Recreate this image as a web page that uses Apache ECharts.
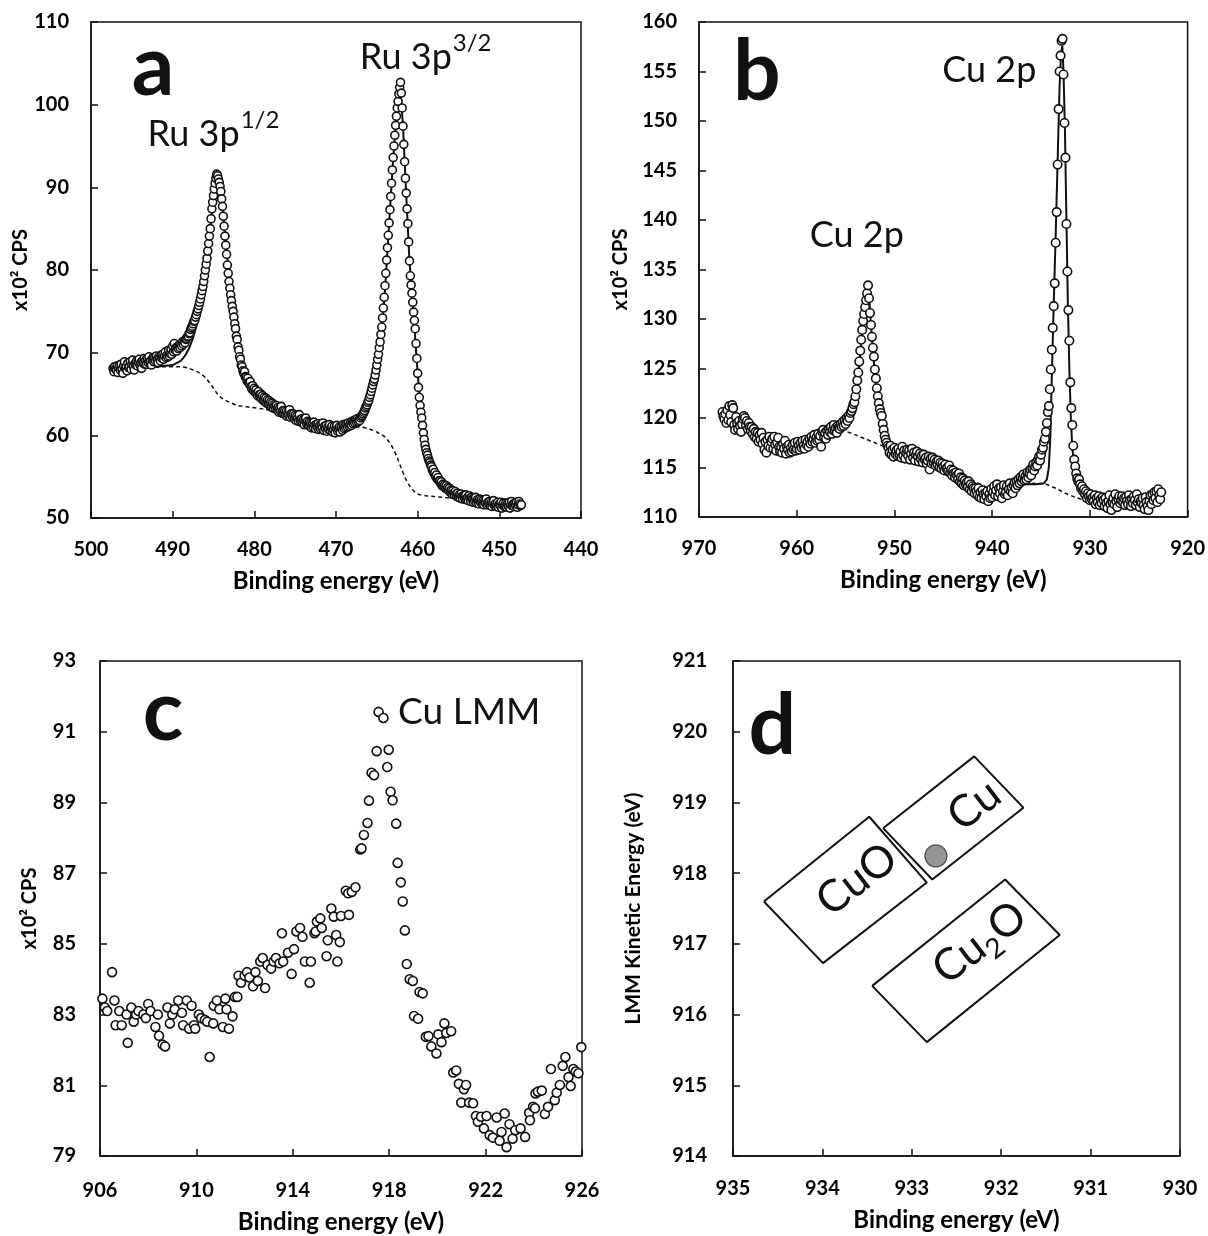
<!DOCTYPE html>
<html><head><meta charset="utf-8">
<script src="https://cdn.jsdelivr.net/npm/echarts@6/dist/echarts.min.js"></script>
<style>html,body{margin:0;padding:0;background:#fff}#c{width:1208px;height:1236px}</style>
</head><body><div id="c"></div>
<script>
// ---------------- Panel a : Ru 3p region ----------------
const aStartEV = 497.3, aStepEV = 0.1;   // energy grid (decreasing)
const aCounts = [
68.1,67.7,68.3,68.0,67.9,68.4,67.6,68.2,68.5,67.9,
68.6,68.0,67.5,68.4,68.9,68.1,68.3,67.8,68.7,68.2,
68.3,68.9,68.0,68.6,69.1,68.4,67.9,68.7,68.5,69.0,
68.4,68.9,69.2,68.5,68.8,68.1,69.0,68.7,69.3,68.6,
69.1,68.6,69.3,68.8,69.5,68.9,69.0,68.5,69.2,69.4,
68.9,69.4,69.0,69.6,69.2,68.8,69.5,69.3,69.0,69.7,
69.3,69.8,69.2,69.6,70.1,69.4,69.7,69.5,70.3,69.6,
69.9,70.4,69.8,70.8,70.1,71.1,70.3,70.6,70.2,70.7,
70.5,70.9,70.6,71.0,70.8,71.3,71.0,71.4,71.2,71.6,
71.7,71.9,72.0,72.3,72.4,72.8,73.0,73.2,73.5,73.8,
73.9,74.3,74.6,75.0,75.3,75.7,76.1,76.5,77.0,77.5,
78.0,78.6,79.3,80.0,80.7,81.4,82.3,83.2,84.1,85.0,
86.2,87.4,88.2,89.0,89.8,90.5,91.1,91.6,91.4,91.0,
90.6,90.1,89.5,88.6,87.7,86.5,85.3,84.1,83.0,81.9,
80.6,79.6,78.6,77.8,77.0,76.3,75.6,75.0,74.3,73.5,
72.9,72.0,71.6,70.7,70.3,69.5,69.2,68.5,68.3,67.8,
67.5,67.7,67.1,67.0,66.6,66.9,66.4,66.2,66.5,65.9,
65.6,66.0,65.4,65.7,65.2,65.5,65.1,64.8,65.3,64.9,
64.6,65.0,64.4,64.8,64.2,64.6,64.1,64.5,63.9,64.3,
63.8,64.2,63.6,64.0,63.4,63.9,63.3,63.7,63.5,63.2,
63.6,63.1,63.4,62.8,63.3,62.9,63.5,62.7,63.0,62.6,
63.0,62.5,62.9,62.3,62.7,62.4,63.1,62.2,62.6,62.4,
62.2,62.6,62.0,62.4,61.8,62.3,62.0,61.7,62.5,61.9,
61.6,62.0,61.5,61.9,61.3,61.8,62.1,61.4,61.7,61.2,
61.6,61.1,61.5,60.9,61.4,61.0,61.6,61.2,60.8,61.3,
61.0,61.4,60.7,61.2,60.8,61.3,60.9,61.5,60.6,61.1,
60.8,61.2,60.5,61.0,60.7,61.3,60.6,60.9,61.1,60.4,
60.7,61.1,60.3,60.9,61.2,60.5,60.8,61.0,60.4,60.9,
61.1,60.6,61.3,60.8,61.2,60.9,61.4,61.0,61.5,61.1,
61.3,61.6,61.2,61.7,61.4,61.8,61.5,61.9,61.6,62.0,
61.7,61.9,61.8,62.1,62.3,62.4,62.6,62.8,63.0,63.3,
63.5,63.7,64.0,64.2,64.6,64.9,65.3,65.7,66.1,66.5,
66.8,67.3,67.9,68.5,69.2,69.8,70.6,71.3,72.2,73.1,
74.2,75.4,76.7,78.1,79.6,81.2,82.7,84.2,85.7,87.3,
88.9,90.5,92.1,93.6,95.0,96.3,97.5,98.6,99.6,100.4,
101.3,102.1,102.7,101.4,99.6,97.4,95.2,93.1,91.1,89.3,
87.4,85.6,83.4,81.1,79.3,78.2,77.2,76.1,74.9,73.9,
72.9,71.1,69.3,67.5,65.8,64.6,63.6,62.8,62.1,61.2,
60.3,59.5,58.8,58.3,57.9,57.6,57.2,56.9,56.7,56.4,
56.2,55.8,55.9,55.4,55.5,55.0,55.2,54.7,54.9,54.5,
54.5,54.2,54.4,53.9,54.1,53.8,54.0,53.6,53.9,53.5,
53.7,53.3,53.6,53.1,53.4,52.9,53.3,53.0,52.8,53.2,
52.9,52.6,53.0,52.5,52.8,52.4,52.9,52.6,52.3,52.7,
52.6,52.3,52.8,52.2,52.5,52.1,52.7,52.4,52.0,52.5,
52.3,51.9,52.4,52.0,52.5,51.8,52.2,52.0,51.7,52.3,
51.9,52.2,51.7,52.1,51.6,52.0,51.8,52.3,51.6,51.9,
51.7,52.0,51.5,51.9,51.4,51.8,52.1,51.5,51.7,51.4,
51.6,51.9,51.3,51.7,51.5,51.9,51.2,51.6,51.8,51.4,
51.5,51.8,51.3,51.7,51.4,51.9,51.2,51.6,52.0,51.5,
51.7,51.4,51.8,51.5,51.9,51.3,51.6,52.0,51.7,51.5,
51.6
];
const aFit = [[497.3,68.1],[495,68.2],[492,68.3],[490,68.5],[489,69.0],[488.5,69.6],[488,70.5],[487.5,71.8],[487,73.6],[486.5,76.0],[486,79.5],[485.5,84.0],[485,88.5],[484.7,91.0],[484.55,91.6],[484.3,90.8],[484,88.5],[483.5,83.5],[483,78.5],[482.5,74.2],[482,70.8],[481.5,68.3],[481,66.8],[480,65.3],[478,63.9],[476,63.0],[474,62.2],[472,61.5],[470,61.0],[468.5,60.9],[467.5,61.0],[467,61.3],[466.5,61.9],[466,63.0],[465.5,64.8],[465,67.5],[464.5,71.5],[464,77.5],[463.5,85.5],[463,93.5],[462.5,99.5],[462.15,102.3],[461.8,97.5],[461.5,91.2],[461,81.0],[460.5,74.5],[460,67.5],[459.5,62.0],[459,58.2],[458.5,56.4],[458,55.3],[457,54.0],[456,53.2],[455,52.7],[453,52.3],[451,52.0],[449,51.8],[447.3,51.7]];
const aBackground = [[497.3,68.0],[494,68.1],[491,68.3],[489,68.3],[488,68.1],[487,67.7],[486.5,67.4],[486,67.0],[485.5,66.4],[485,65.7],[484.5,65.0],[484,64.5],[483,64.0],[482,63.6],[480.5,63.4],[479,63.2],[477,62.8],[475,62.3],[473,61.9],[471,61.5],[469,61.2],[467,61.0],[466,60.8],[465,60.4],[464,59.8],[463.5,59.2],[463,58.4],[462.5,57.3],[462,56.0],[461.5,54.8],[461,53.9],[460.5,53.3],[460,52.9],[459,52.7],[458,52.6],[457,52.5],[455,52.3],[452,52.0],[449,51.8],[447.3,51.7]];
const aXTicks = [500,490,480,470,460,450,440];
const aYTicks = [50,60,70,80,90,100,110];

// ---------------- Panel b : Cu 2p region ----------------
const bStartEV = 967.6, bStepEV = 0.1;
const bCounts = [
120.6,120.2,119.9,120.4,119.5,120.8,119.8,121.2,120.3,119.6,
121.3,121.0,119.3,118.8,120.1,119.5,118.9,119.7,119.2,118.6,
119.4,119.9,120.2,120.0,119.3,119.7,118.9,119.5,119.1,118.7,
119.1,118.4,118.9,118.1,118.6,117.9,118.5,117.6,118.3,117.8,
118.5,117.4,118.0,116.8,117.6,116.5,117.8,117.2,118.1,117.0,
117.6,117.9,116.9,118.1,117.3,116.7,117.5,118.0,117.1,116.6,
117.1,116.5,117.4,116.9,117.7,116.4,117.1,116.8,117.3,116.5,
117.0,116.6,117.3,116.8,117.5,116.7,116.9,117.6,117.2,116.8,
117.5,117.0,117.7,117.2,116.9,117.8,117.3,117.6,117.1,117.9,
117.4,118.1,117.6,117.9,118.3,117.5,118.0,117.7,118.4,117.8,
118.2,117.1,118.6,118.8,118.0,118.5,117.9,118.7,118.3,118.9,
118.6,119.1,118.4,118.8,119.3,118.7,119.0,118.5,119.2,119.0,
118.9,119.4,119.1,119.6,119.2,119.8,119.4,120.0,119.7,120.2,
120.0,120.5,120.7,121.0,121.4,121.6,122.2,122.9,123.8,124.6,
125.7,126.8,127.9,128.9,129.8,130.5,131.2,131.9,132.6,133.4,
132.1,130.6,129.4,128.2,127.1,126.2,124.9,124.0,123.0,122.2,
121.5,120.9,120.5,120.2,119.4,118.8,118.2,117.8,117.5,117.2,
117.0,116.5,117.2,116.3,116.8,116.1,117.0,116.4,116.7,116.2,
116.9,116.3,116.6,116.0,117.1,116.2,116.7,115.9,116.5,116.8,
116.2,116.7,115.8,116.4,116.9,116.0,116.5,115.7,116.3,116.6,
116.1,115.6,116.4,115.9,116.2,115.5,116.3,115.8,116.0,115.4,
115.7,116.1,114.8,115.9,115.4,116.0,115.5,115.8,115.2,115.6,
115.3,115.7,115.0,115.5,114.9,115.4,115.1,114.7,115.3,114.9,
115.0,114.6,115.2,114.5,114.8,114.2,114.7,114.4,114.0,114.5,
114.2,113.8,114.4,113.6,114.0,113.4,113.9,113.2,113.7,113.3,
113.5,113.0,113.6,112.8,113.3,112.6,113.1,112.9,112.4,112.9,
112.6,112.2,112.9,112.0,112.5,111.9,112.7,112.3,111.8,112.4,
112.1,112.6,111.6,112.3,111.9,112.8,112.0,112.5,113.1,112.2,
112.7,113.3,112.1,112.9,112.4,113.0,111.9,112.6,113.2,112.3,
112.5,113.1,112.2,112.8,113.4,112.6,113.0,112.4,113.2,113.5,
112.9,113.6,113.2,113.8,113.4,114.0,113.6,113.9,114.3,113.7,
114.1,113.8,114.5,114.0,114.4,114.8,114.2,114.9,115.3,114.7,
115.1,115.5,115.2,115.8,116.1,115.7,116.3,116.8,117.0,117.6,
117.9,118.6,119.5,120.6,121.2,122.9,124.9,126.9,129.1,131.3,
133.6,137.7,140.8,145.6,151.2,155.0,156.6,158.1,158.3,154.7,
149.8,146.3,139.6,134.8,130.9,127.8,123.6,121.0,119.3,117.2,
115.8,115.1,114.4,113.9,113.6,113.8,113.3,112.9,113.1,112.6,
112.8,112.3,112.6,111.9,112.4,112.1,111.7,112.3,111.8,112.0,
111.6,112.2,111.3,111.9,111.5,112.1,111.2,111.8,111.4,112.0,
111.7,111.1,111.9,111.4,110.9,111.6,112.2,111.3,110.7,111.5,
111.9,111.3,112.3,111.6,111.0,111.8,112.1,111.4,111.7,112.1,
111.5,111.9,111.2,112.0,111.6,111.3,112.2,111.7,111.1,111.8,
111.4,112.1,111.7,111.2,112.3,111.5,111.8,111.0,111.6,111.4,
111.9,111.2,110.8,112.0,111.5,111.1,110.7,111.6,112.2,111.3,
112.3,111.7,112.5,111.9,112.6,111.5,112.8,112.2,111.8,112.5
];
const bFit12 = [[955.2,119.2],[954.6,119.6],[954.2,120.6],[953.9,122.5],[953.6,125.3],[953.3,128.6],[953.0,131.3],[952.8,132.6],[952.65,133.0],[952.5,131.0],[952.3,128.0],[952.1,125.6],[951.9,123.3],[951.7,121.5],[951.4,119.5],[951.1,118.0],[950.8,117.3],[950.4,116.9],[950.0,116.6]];
const bFit32 = [[936.5,113.3],[935.5,113.3],[934.7,113.4],[934.4,113.8],[934.2,115.0],[934.05,118.0],[933.9,124.0],[933.7,131.5],[933.5,138.5],[933.3,146.0],[933.1,153.5],[932.95,156.8],[932.82,157.6],[932.7,155.0],[932.55,149.0],[932.4,140.0],[932.25,131.5],[932.1,125.0],[931.95,120.0],[931.8,117.0],[931.6,115.0],[931.3,113.6],[931.0,112.8],[930.5,112.2],[929.8,111.9]];
const bBackground = [[954.8,118.6],[954,118.3],[953,117.9],[952,117.5],[951,117.1],[950,116.7],[948,116.3],[946,115.6],[944,114.8],[942,113.7],[940,112.9],[938,112.9],[936.5,113.3],[935.5,113.4],[934.5,113.3],[933.5,112.9],[932.5,112.4],[931.5,112.0],[930.5,111.7],[929.5,111.6]];
const bXTicks = [970,960,950,940,930,920];
const bYTicks = [110,115,120,125,130,135,140,145,150,155,160];

// ---------------- Panel c : Cu LMM ----------------
const cPoints = [
[906.10,83.45],[906.20,83.20],[906.30,83.10],[906.50,84.20],[906.60,83.40],[906.65,82.70],[906.80,83.10],[906.90,82.70],[907.10,83.00],[907.15,82.20],
[907.30,83.20],[907.40,82.80],[907.50,83.00],[907.60,83.10],[907.80,83.00],[907.90,82.90],[908.00,83.30],[908.10,83.10],[908.30,82.65],[908.40,83.00],
[908.45,82.40],[908.60,82.15],[908.70,82.10],[908.80,83.20],[908.90,82.75],[909.00,83.00],[909.10,83.15],[909.25,83.40],[909.40,83.05],[909.45,82.70],
[909.60,83.40],[909.70,82.60],[909.80,83.25],[909.90,82.70],[909.95,82.60],[910.10,83.00],[910.20,82.90],[910.35,82.85],[910.45,82.80],[910.55,81.80],
[910.70,82.75],[910.72,83.25],[910.85,83.40],[910.95,83.15],[911.10,82.65],[911.20,83.45],[911.25,83.15],[911.35,82.60],[911.50,82.95],[911.60,83.50],
[911.70,83.50],[911.75,84.10],[911.85,83.90],[912.00,84.10],[912.10,84.20],[912.20,84.05],[912.35,83.80],[912.45,84.20],[912.55,83.95],[912.65,84.50],
[912.75,84.60],[912.85,83.75],[912.95,84.40],[913.10,84.30],[913.20,84.50],[913.30,84.60],[913.45,84.45],[913.55,85.30],[913.60,84.50],[913.80,84.75],
[913.95,84.15],[914.05,84.85],[914.15,85.35],[914.30,85.45],[914.40,85.20],[914.50,84.50],[914.70,83.90],[914.75,84.50],[914.90,85.30],[914.95,85.35],
[915.00,85.63],[915.14,85.72],[915.20,85.45],[915.40,84.65],[915.45,85.10],[915.60,86.00],[915.70,85.77],[915.80,85.25],[915.85,84.50],[915.95,85.05],
[916.00,85.79],[916.20,86.50],[916.30,86.43],[916.33,85.82],[916.45,86.47],[916.60,86.60],[916.80,87.67],[916.85,87.70],[916.95,88.08],[917.10,88.42],
[917.16,89.05],[917.27,89.84],[917.37,89.77],[917.48,90.45],[917.56,91.56],[917.76,91.39],[917.92,90.00],[917.98,90.49],[918.06,89.30],[918.14,89.06],
[918.29,88.40],[918.35,87.29],[918.48,86.74],[918.56,86.20],[918.65,85.38],[918.73,84.43],[918.85,84.00],[918.98,83.95],[919.03,82.96],[919.20,82.88],
[919.26,83.64],[919.39,83.60],[919.52,82.37],[919.63,82.39],[919.75,82.10],[919.96,81.90],[920.04,82.44],[920.17,82.22],[920.29,82.75],[920.37,82.48],
[920.57,82.53],[920.66,81.36],[920.78,81.42],[920.89,81.04],[920.99,80.51],[921.10,80.89],[921.19,81.01],[921.32,80.51],[921.48,80.49],[921.60,80.13],
[921.68,79.97],[921.81,80.11],[921.93,79.78],[922.04,80.13],[922.17,79.59],[922.30,79.52],[922.46,80.09],[922.58,79.43],[922.66,79.68],[922.79,80.20],
[922.87,79.25],[922.99,79.90],[923.12,79.49],[923.23,79.73],[923.45,79.78],[923.64,79.54],[923.81,80.22],[923.84,80.01],[923.97,80.39],[924.05,80.35],
[924.07,80.77],[924.17,80.82],[924.33,80.85],[924.46,80.19],[924.59,80.39],[924.71,81.46],[924.87,80.58],[924.95,80.79],[925.08,81.01],[925.20,81.55],
[925.31,81.80],[925.44,81.23],[925.53,80.98],[925.64,81.46],[925.74,81.39],[925.85,81.34],[925.97,82.08]
];
const cXTicks = [906,910,914,918,922,926];
const cYTicks = [79,81,83,85,87,89,91,93];

// ---------------- Panel d : Wagner plot ----------------
const dCuOBox  = [[934.654,917.599],[933.476,918.797],[932.832,917.867],[933.993,916.728],[934.654,917.599]];
const dCuBox   = [[933.321,918.636],[932.302,919.651],[931.752,918.926],[932.771,917.910],[933.321,918.636]];
const dCu2OBox = [[933.443,916.406],[931.956,917.910],[931.345,917.126],[932.832,915.610],[933.443,916.406]];
const dSample  = [[932.73,918.243]];
const dXTicks = [935,934,933,932,931,930];
const dYTicks = [914,915,916,917,918,919,920,921];

// ---------------- helpers ----------------
const FONT = 'Lato';
const INK = '#111';
const TXT = '#000';
function mkGrid(l,t,w,h){ return {left:l,top:t,width:w,height:h,show:true,borderColor:INK,borderWidth:1.5,backgroundColor:'#fff'}; }
function mkX(gi,min,max,ticks,inverse,margin,gap){
  return {type:'value',gridIndex:gi,min:min,max:max,inverse:inverse,
    name:'Binding energy (eV)',nameLocation:'middle',nameGap:gap,
    nameTextStyle:{fontFamily:FONT,fontWeight:'bold',fontSize:24,color:TXT},
    axisLine:{show:true,onZero:false,lineStyle:{color:INK,width:1.5}},
    axisTick:{show:true,inside:true,length:7,customValues:ticks,lineStyle:{color:INK,width:1.5}},
    axisLabel:{show:true,customValues:ticks,margin:margin,fontFamily:FONT,fontWeight:'bold',fontSize:20,color:TXT},
    splitLine:{show:false}};
}
function mkY(gi,min,max,ticks,name,margin,gap,nameSize){
  return {type:'value',gridIndex:gi,min:min,max:max,
    name:name,nameLocation:'middle',nameGap:gap,nameRotate:90,
    nameTextStyle:{fontFamily:FONT,fontWeight:'bold',fontSize:nameSize,color:TXT},
    axisLine:{show:true,onZero:false,lineStyle:{color:INK,width:1.5}},
    axisTick:{show:true,inside:true,length:7,customValues:ticks,lineStyle:{color:INK,width:1.5}},
    axisLabel:{show:true,customValues:ticks,margin:margin,fontFamily:FONT,fontWeight:'bold',fontSize:20,color:TXT},
    splitLine:{show:false}};
}
function scatter(gi,data,size){
  return {type:'scatter',xAxisIndex:gi,yAxisIndex:gi,data:data,symbol:'circle',symbolSize:size,z:5,
    itemStyle:{color:'#fff',borderColor:INK,borderWidth:1.6,opacity:1},emphasis:{disabled:true},silent:true};
}
function line(gi,data,dashed,w){
  return {type:'line',xAxisIndex:gi,yAxisIndex:gi,data:data,showSymbol:false,symbol:'none',z:dashed?3:4,
    smooth:dashed?0.3:false,lineStyle:{color:INK,width:w,type:dashed?[4,3]:'solid'},silent:true};
}
function annot(gi,list){
  return {type:'custom',xAxisIndex:gi,yAxisIndex:gi,z:20,silent:true,clip:false,
    data:list.map(d=>d.at),
    renderItem:function(params,api){
      const d=list[params.dataIndex];
      const p=api.coord([api.value(0),api.value(1)]);
      return {type:'text',x:p[0],y:p[1],rotation:(d.rot||0)*Math.PI/180,
        style:{text:d.text,fill:INK,fontFamily:FONT,fontSize:d.size,fontWeight:d.weight||'normal',
          align:d.align||'left',verticalAlign:'middle',rich:d.rich}};
    }};
}
const supRich = {n:{fontFamily:FONT,fontSize:36,lineHeight:44,fill:INK,verticalAlign:'bottom'},
                 s:{fontFamily:FONT,fontSize:24,lineHeight:44,fill:INK,verticalAlign:'top',padding:[0,0,14,1]}};
const subRich = {n:{fontFamily:FONT,fontSize:44,lineHeight:50,fill:INK,verticalAlign:'top'},
                 s:{fontFamily:FONT,fontSize:28,lineHeight:50,fill:INK,verticalAlign:'bottom',padding:[11,0,0,0]}};

const aPoints = aCounts.map((v,i)=>[+(aStartEV - i*aStepEV).toFixed(2), v]);
const bPoints = bCounts.map((v,i)=>[+(bStartEV - i*bStepEV).toFixed(2), v]);

const option = {
  animation:false,
  backgroundColor:'#fff',
  grid:[mkGrid(91,22,490,496), mkGrid(699,22,490,495), mkGrid(100,661,482,495), mkGrid(733,661,447,495)],
  xAxis:[mkX(0,440,500,aXTicks,true,22,51), mkX(1,920,970,bXTicks,true,22,51), mkX(2,906,926,cXTicks,false,25,54), mkX(3,930,935,dXTicks,true,23,52)],
  yAxis:[mkY(0,50,110,aYTicks,'x10² CPS',22,53,20), mkY(1,110,160,bYTicks,'x10² CPS',22,68,20), mkY(2,79,93,cYTicks,'x10² CPS',24,60,20), mkY(3,914,921,dYTicks,'LMM Kinetic Energy (eV)',26,89,21)],
  series:[
    line(0,aBackground,true,1.5), line(0,aFit,false,2), scatter(0,aPoints,8),
    annot(0,[
      {at:[492.4,104.5],text:'a',size:84,weight:'bold',align:'center'},
      {at:[493.08,96.9],text:'{n|Ru 3p}{s|1/2}',rich:supRich,size:36},
      {at:[467.1,106.2],text:'{n|Ru 3p}{s|3/2}',rich:supRich,size:36}
    ]),
    line(1,bBackground,true,1.5), line(1,bFit12,false,2), line(1,bFit32,false,2), scatter(1,bPoints,8.5),
    annot(1,[
      {at:[964.08,154.9],text:'b',size:84,weight:'bold',align:'center'},
      {at:[945.1,155.15],text:'Cu 2p',size:36},
      {at:[958.67,138.4],text:'Cu 2p',size:36}
    ]),
    scatter(2,cPoints,9),
    annot(2,[
      {at:[908.61,91.53],text:'c',size:84,weight:'bold',align:'center'},
      {at:[918.37,91.56],text:'Cu LMM',size:37}
    ]),
    line(3,dCuOBox,false,2), line(3,dCuBox,false,2), line(3,dCu2OBox,false,2),
    {type:'scatter',xAxisIndex:3,yAxisIndex:3,data:dSample,symbolSize:22,z:6,silent:true,
      itemStyle:{color:'#7a7a7a',borderColor:'#333',borderWidth:1.2}},
    annot(3,[
      {at:[934.56,920.07],text:'d',size:84,weight:'bold',align:'center'},
      {at:[933.614,917.91],text:'CuO',size:44,align:'center',rot:37.6},
      {at:[932.30,918.96],text:'Cu',size:44,align:'center',rot:37.6},
      {at:[932.221,916.981],text:'{n|Cu}{s|2}{n|O}',rich:subRich,size:44,align:'center',rot:37.6}
    ])
  ]
};
const chart = echarts.init(document.getElementById('c'),null,{renderer:'canvas'});
chart.setOption(option);
</script></body></html>
